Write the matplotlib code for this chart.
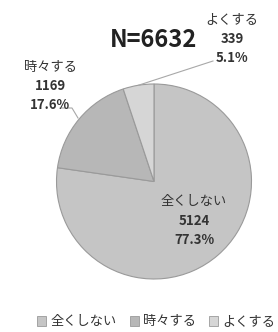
import numpy as np
import matplotlib
matplotlib.use("Agg")
from matplotlib import pyplot as plt
from matplotlib.patches import Patch

plt.rcParams['font.family'] = ['Noto Sans CJK JP', 'DejaVu Sans']

labels = ["全くしない", "時々する", "よくする"]
counts = [5124, 1169, 339]
colors = ["#c5c5c5", "#b7b7b7", "#d6d6d6"]
total = sum(counts)

W, H = 278, 332
fig = plt.figure(figsize=(W / 100, H / 100), dpi=100)

# pie centre / radius in pixels
cx, cy, r = 154, 181.5, 97.5
ax = fig.add_axes([(cx - r) / W, (H - cy - r) / H, 2 * r / W, 2 * r / H])
wedges, _ = ax.pie(counts, colors=colors, startangle=90, counterclock=False,
                   wedgeprops=dict(edgecolor="#9a9a9a", linewidth=0.8))
ax.set_xlim(-1, 1)
ax.set_ylim(-1, 1)
ax.set_aspect("equal")
ax.axis("off")


def px(x, y):
    return (x - cx) / r, (cy - y) / r


# label positions (pixels, centre of text block top line)
label_pos = [(194, 202), (50, 67), (232, 20)]
for lab, n, (x, y) in zip(labels, counts, label_pos):
    pct = n / total * 100
    ax.text(*px(x, y), lab, ha="center", va="center", fontsize=9.5, color="#333333")
    ax.text(*px(x, y + 19), str(n), ha="center", va="center", fontsize=9.5,
            fontweight="bold", color="#333333")
    ax.text(*px(x, y + 38), f"{pct:.1f}%", ha="center", va="center", fontsize=9.5,
            fontweight="bold", color="#333333")

# leader lines
ang = 90 - (counts[0] + counts[1] + counts[2] / 2) / total * 360
ex, ey = np.cos(np.radians(ang)), np.sin(np.radians(ang))
ax.plot([px(213, 61)[0], ex], [px(213, 61)[1], ey], color="#a8a8a8", lw=0.8, clip_on=False)
ax.plot([px(60, 108)[0], px(72, 108)[0], px(78, 118)[0]],
        [px(60, 108)[1], px(72, 108)[1], px(78, 118)[1]], color="#a8a8a8", lw=0.8, clip_on=False)

fig.text(154 / W, 1 - 40 / H, f"N={total}", ha="center", va="center",
         fontsize=17, fontweight="bold", color="#222222")

handles = [Patch(facecolor=c, edgecolor="#9a9a9a", linewidth=0.6) for c in colors]
fig.legend(handles, labels, loc="center", bbox_to_anchor=(156 / W, 1 - 322 / H), ncol=3,
           frameon=False, fontsize=9.5, handlelength=0.7, handleheight=0.7,
           handletextpad=0.3, columnspacing=1.0, labelcolor="#333333")

fig.savefig("out.png", dpi=100)
